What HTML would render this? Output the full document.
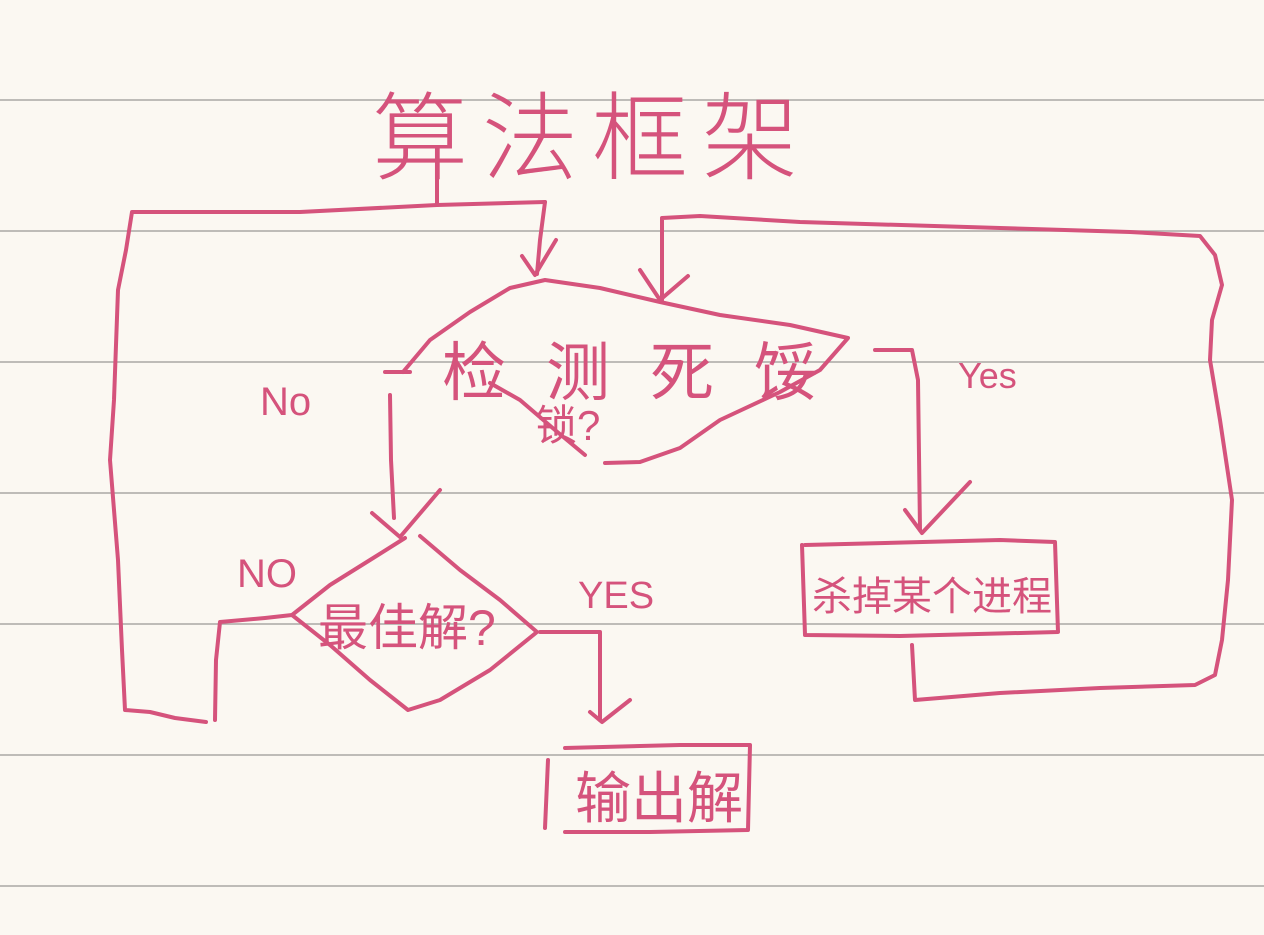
<!DOCTYPE html>
<html><head><meta charset="utf-8">
<style>
html,body{margin:0;padding:0;background:#fbf8f2;}
svg{display:block;}
text{font-family:"Liberation Sans","Noto Sans CJK SC",sans-serif;fill:#d5537c;}
</style></head>
<body>
<svg width="1264" height="935" viewBox="0 0 1264 935" xmlns="http://www.w3.org/2000/svg">
<rect width="1264" height="935" fill="#fbf8f2"/>
<g stroke="#aaa8a4" stroke-width="1.5">
<line x1="0" y1="100" x2="1264" y2="100"/>
<line x1="0" y1="231" x2="1264" y2="231"/>
<line x1="0" y1="362" x2="1264" y2="362"/>
<line x1="0" y1="493" x2="1264" y2="493"/>
<line x1="0" y1="624" x2="1264" y2="624"/>
<line x1="0" y1="755" x2="1264" y2="755"/>
<line x1="0" y1="886" x2="1264" y2="886"/>
</g>
<g fill="none" stroke="#d5537c" stroke-width="4" stroke-linecap="round" stroke-linejoin="round">
<path d="M437 170 L437 205"/>
<path d="M545 202 L437 205 L300 212 L132 212 L126 250 L118 290 L114 400 L110 460 L118 560 L122 650 L125 710 L150 712 L175 718 L206 722"/>
<path d="M545 202 L540 240 L537 274"/>
<path d="M522 256 L535 275 L556 240"/>
<path d="M403 372 L430 340 L470 312 L510 288 L545 280 L600 288 L660 302 L720 315 L790 325 L848 338 L820 370 L780 392 L720 420 L680 448 L640 462 L605 463"/>
<path d="M585 455 L555 430 L520 400 L490 383"/>
<path d="M385 372 L410 372"/>
<path d="M662 300 L662 218 L700 216 L800 222 L1000 228 L1130 232 L1200 236 L1215 255 L1222 285 L1212 320 L1210 360 L1220 420 L1232 500 L1228 580 L1222 640 L1215 675 L1195 685 L1100 688 L1000 693 L915 700 L912 645"/>
<path d="M640 270 L660 300 L688 276"/>
<path d="M875 350 L912 350 L918 380 L920 530"/>
<path d="M905 510 L922 533 L970 482"/>
<path d="M805 545 L1000 540 L1055 542 L1058 632 L900 636 L805 635 L802 545"/>
<path d="M390 395 L391 460 L394 518"/>
<path d="M372 513 L400 537 L440 490"/>
<path d="M405 538 L370 560 L330 585 L292 615 L330 645 L370 680 L408 710 L440 700 L490 670 L537 632 L500 600 L460 570 L420 536"/>
<path d="M292 615 L265 618 L220 622 L216 660 L215 720"/>
<path d="M540 632 L600 632 L600 690 L600 720"/>
<path d="M590 712 L602 722 L630 700"/>
<path d="M565 748 L680 745 L750 745 L748 830 L650 832 L565 832"/>
<path d="M548 760 L545 828"/>
</g>
<text x="372" y="172" font-size="96" letter-spacing="14" font-weight="300">算法框架</text>
<text x="442" y="395" font-size="64" letter-spacing="40">检测死馁</text>
<text x="535" y="440" font-size="42">锁?</text>
<text x="318" y="645" font-size="50">最佳解?</text>
<text x="575" y="818" font-size="56">输出解</text>
<text x="812" y="610" font-size="40">杀掉某个进程</text>
<text x="260" y="415" font-size="40">No</text>
<text x="958" y="388" font-size="36">Yes</text>
<text x="237" y="587" font-size="40">NO</text>
<text x="578" y="608" font-size="38">YES</text>
</svg>
</body></html>
